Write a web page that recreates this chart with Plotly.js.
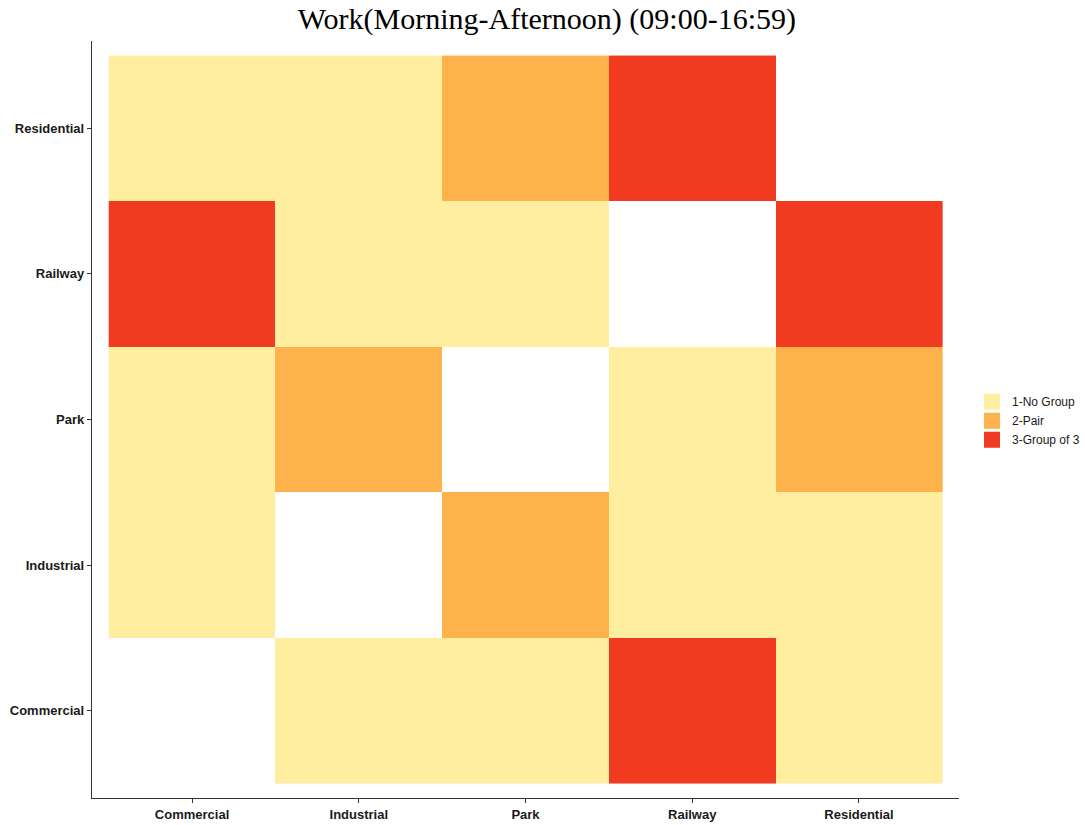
<!DOCTYPE html>
<html>
<head>
<meta charset="utf-8">
<script src="https://cdn.plot.ly/plotly-3.0.1.min.js"></script>
<style>html,body{margin:0;padding:0;background:#fff;}#chart{width:1085px;height:825px;}</style>
</head>
<body>
<div id="chart"></div>
<script>
// Categories
var xCategories = ["Commercial", "Industrial", "Park", "Railway", "Residential"];
var yCategories = ["Commercial", "Industrial", "Park", "Railway", "Residential"];
// Group level per cell (row = y category, column = x category); null = no cell
var zCommercial  = [null, 1, 1, 3, 1];
var zIndustrial  = [1, null, 2, 1, 1];
var zPark        = [1, 2, null, 1, 2];
var zRailway     = [3, 1, 1, null, 3];
var zResidential = [1, 1, 2, 3, null];
var levelLabels = ["1-No Group", "2-Pair", "3-Group of 3"];
var levelColors = ["#FFEDA0", "#FEB24C", "#F03B20"];

var zMatrix = [zCommercial, zIndustrial, zPark, zRailway, zResidential];

var traces = [{
  type: "heatmap",
  x: xCategories,
  y: yCategories,
  z: zMatrix,
  zmin: 1, zmax: 3,
  colorscale: [[0, levelColors[0]], [0.5, levelColors[1]], [1, levelColors[2]]],
  showscale: false,
  showlegend: false,
  hoverongaps: false
}];
levelLabels.forEach(function (lab, i) {
  traces.push({
    type: "scatter",
    mode: "markers",
    x: [null], y: [null],
    name: lab,
    marker: {symbol: "square", size: 22, color: levelColors[i]},
    showlegend: true,
    hoverinfo: "skip"
  });
});

var layout = {
  width: 1085, height: 825,
  margin: {l: 92, r: 126, t: 41, b: 27, pad: 0, autoexpand: false},
  paper_bgcolor: "#ffffff",
  plot_bgcolor: "#ffffff",
  title: {
    text: "Work(Morning-Afternoon) (09:00-16:59)",
    font: {family: "Liberation Serif, DejaVu Serif, serif", size: 30, color: "#000"},
    x: 0.504, xanchor: "center",
    y: 1 - 18 / 825, yanchor: "middle", yref: "container"
  },
  xaxis: {
    type: "category",
    categoryorder: "array", categoryarray: xCategories,
    range: [-0.6, 4.6],
    showgrid: false, zeroline: false,
    showline: true, linecolor: "#333", linewidth: 1.2,
    ticks: "outside", ticklen: 4, tickcolor: "#333", tickwidth: 1,
    tickfont: {family: "Liberation Sans, Arial, sans-serif", size: 13, color: "#1a1a1a", weight: "bold"},
    fixedrange: true
  },
  yaxis: {
    type: "category",
    categoryorder: "array", categoryarray: yCategories,
    range: [-0.6, 4.6],
    showgrid: false, zeroline: false,
    showline: true, linecolor: "#333", linewidth: 1.2,
    ticks: "outside", ticklen: 4, tickcolor: "#333", tickwidth: 1,
    tickfont: {family: "Liberation Sans, Arial, sans-serif", size: 13, color: "#1a1a1a", weight: "bold"},
    fixedrange: true
  },
  legend: {
    xref: "container", yref: "container",
    x: 972 / 1085, xanchor: "left",
    y: 0.49, yanchor: "middle",
    font: {family: "Liberation Sans, Arial, sans-serif", size: 12, color: "#1a1a1a"},
    tracegroupgap: 0,
    itemsizing: "trace",
    bgcolor: "rgba(0,0,0,0)"
  },
  showlegend: true
};

Plotly.newPlot("chart", traces, layout, {displayModeBar: false, staticPlot: true});
</script>
</body>
</html>
